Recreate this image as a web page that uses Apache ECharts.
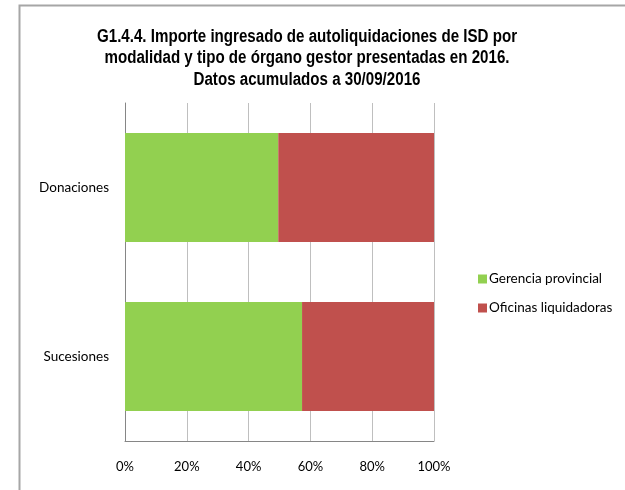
<!DOCTYPE html>
<html>
<head>
<meta charset="utf-8">
<script src="https://cdn.jsdelivr.net/npm/echarts@6/dist/echarts.min.js"></script>
<style>
  html, body { margin: 0; padding: 0; background: #fff; }
  #main { width: 625px; height: 490px; }
</style>
</head>
<body>
<div id="main"></div>
<script>
  // datos (porcentaje sobre el total de cada modalidad)
  var categorias = ['Sucesiones', 'Donaciones'];
  var gerencia = [57.3, 49.6];
  var oficinas = [42.7, 50.4];
  var ticks = [0, 20, 40, 60, 80, 100];
  var titulo = 'G1.4.4. Importe ingresado de autoliquidaciones de ISD por\nmodalidad y tipo de órgano gestor presentadas en 2016.\nDatos acumulados a 30/09/2016';

  var myChart = echarts.init(document.getElementById('main'));
  var option = {
    backgroundColor: '#fff',
    animation: false,
    graphic: [{
      type: 'rect',
      shape: { x: 19.5, y: 5.5, width: 700, height: 600 },
      style: { fill: null, stroke: '#a6a6a6', lineWidth: 2 },
      silent: true
    }, {
      // titulo condensado (no hay Arial Narrow instalada)
      type: 'text',
      x: 307,
      y: 26,
      scaleX: 0.84,
      silent: true,
      style: {
        text: titulo,
        align: 'center',
        verticalAlign: 'top',
        font: 'bold 18px "Liberation Sans", Arial, sans-serif',
        lineHeight: 21.5,
        fill: '#000'
      }
    }],
    legend: {
      orient: 'vertical',
      left: 473,
      top: 267,
      itemWidth: 9,
      itemHeight: 9,
      itemGap: 15,
      icon: 'rect',
      textStyle: { fontFamily: 'Lato, sans-serif', fontSize: 13.5, color: '#000', padding: [0, 0, 0, -3] },
      data: ['Gerencia provincial', 'Oficinas liquidadoras']
    },
    grid: { left: 125, right: 191, top: 103, bottom: 49, containLabel: false },
    xAxis: {
      type: 'value',
      min: 0,
      max: 100,
      interval: 20,
      axisLine: { show: true, lineStyle: { color: '#868686', width: 1 } },
      axisTick: { show: false },
      axisLabel: {
        margin: 19,
        fontFamily: 'Lato, sans-serif',
        fontSize: 13,
        color: '#000',
        formatter: function (v) { return ticks.indexOf(v) >= 0 ? v + '%' : ''; }
      },
      splitLine: { show: true, lineStyle: { color: '#bfbfbf', width: 1 } }
    },
    yAxis: {
      type: 'category',
      data: categorias,
      axisLine: { show: true, lineStyle: { color: '#868686', width: 1 } },
      axisTick: { show: false },
      axisLabel: { margin: 16, fontFamily: 'Lato, sans-serif', fontSize: 13.5, color: '#000' }
    },
    series: [{
      name: 'Gerencia provincial',
      type: 'bar',
      stack: 'total',
      barWidth: 109,
      itemStyle: { color: '#92D050' },
      data: gerencia
    }, {
      name: 'Oficinas liquidadoras',
      type: 'bar',
      stack: 'total',
      barWidth: 109,
      itemStyle: { color: '#C0504D' },
      data: oficinas
    }]
  };
  myChart.setOption(option);
</script>
</body>
</html>
